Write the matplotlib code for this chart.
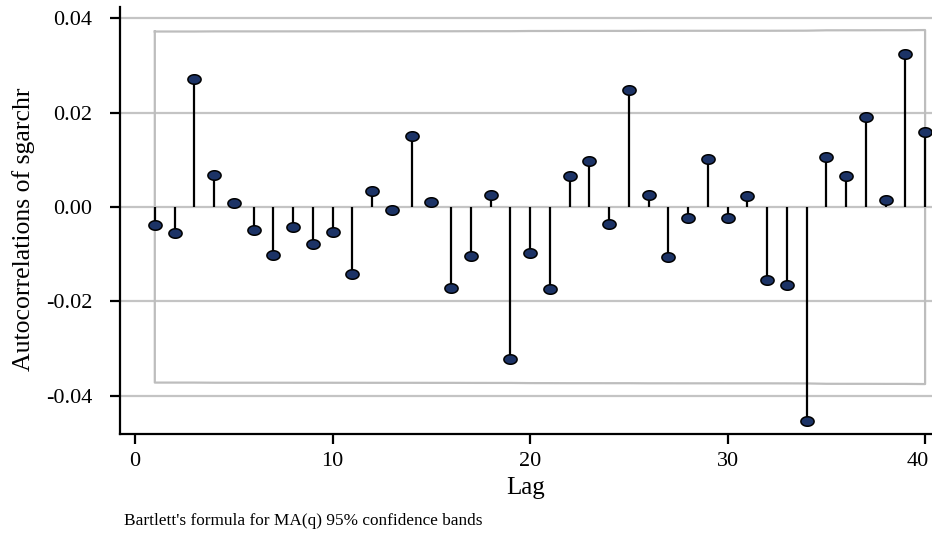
import matplotlib.pyplot as plt
import numpy as np
from matplotlib.path import Path
from matplotlib.transforms import ScaledTranslation

plt.rcParams['font.family'] = ['Liberation Serif', 'DejaVu Serif']

lags = np.arange(1, 41)
acf = np.array([-0.0037, -0.0054, 0.0272, 0.0068, 0.0009, -0.0048, -0.0101, -0.0042,
                -0.0079, -0.0052, -0.0141, 0.0033, -0.0007, 0.0151, 0.0011, -0.0171,
                -0.0104, 0.0026, -0.0321, -0.0097, -0.0174, 0.0066, 0.0098, -0.0035,
                0.0249, 0.0025, -0.0105, -0.0023, 0.0102, -0.0024, 0.0023, -0.0154,
                -0.0166, -0.0454, 0.0106, 0.0066, 0.0190, 0.0016, 0.0324, 0.0159])
nobs = 2776

yticks = [0.04, 0.02, 0.0, -0.02, -0.04]
yticklabels = ['0.04', '0.02', '0.00', '-0.02', '-0.04']
xticks = [0, 10, 20, 30, 40]

# Bartlett's formula for MA(q) bands
cum = np.concatenate([[0.0], np.cumsum(acf[:-1] ** 2)])
band = 1.959964 * np.sqrt((1 + 2 * cum) / nobs)

FONT_SIZE = 16
GRID = '#c4c4c4'

t = np.linspace(0, 2 * np.pi, 40)
ellipse = Path(np.column_stack([np.cos(t), 0.72 * np.sin(t)]), closed=True)

fig = plt.figure(figsize=(9.32, 5.33), dpi=100)
ax = fig.add_axes([0.1288, 0.1857, 0.8712, 0.8012])

for y in yticks:
    ax.axhline(y, color=GRID, linewidth=1.6, zorder=1)

# confidence band outline
bx = np.concatenate([lags, lags[::-1], [lags[0]]])
by = np.concatenate([band, -band[::-1], [band[0]]])
ax.plot(bx, by, color='#bdbdbd', linewidth=1.6, zorder=2)

ax.vlines(lags, 0, acf, color='black', linewidth=1.6, zorder=3)
ax.plot(lags, acf, linestyle='none', marker=ellipse, markersize=9.5,
        markerfacecolor='#1c3366', markeredgecolor='black', markeredgewidth=1.1, zorder=4)

ax.set_xlim(-0.76, 40.35)
ax.set_ylim(-0.0481, 0.0424)
ax.set_yticks(yticks)
ax.set_yticklabels(yticklabels, fontsize=FONT_SIZE)
ax.set_xticks(xticks)
ax.set_xticklabels([str(v) for v in xticks], fontsize=FONT_SIZE)
ax.tick_params(axis='y', length=7, width=1.6, pad=13)
ax.tick_params(axis='x', length=7, width=1.6, pad=6)

# keep the last x label inside the figure
last = ax.get_xticklabels()[-1]
last.set_horizontalalignment('right')
last.set_transform(last.get_transform() + ScaledTranslation(0.04, 0, fig.dpi_scale_trans))

for s in ['top', 'right']:
    ax.spines[s].set_visible(False)
for s in ['left', 'bottom']:
    ax.spines[s].set_linewidth(1.6)

ax.set_xlabel('Lag', fontsize=18, labelpad=4)
ax.set_ylabel('Autocorrelations of sgarchr', fontsize=18.5, labelpad=8)
ax.yaxis.set_label_coords(-0.105, 0.48)

fig.text(124 / 932, 1 - 525 / 533, "Bartlett's formula for MA(q) 95% confidence bands",
         fontsize=12.4, ha='left', va='baseline')

plt.savefig('out.png', dpi=100)
